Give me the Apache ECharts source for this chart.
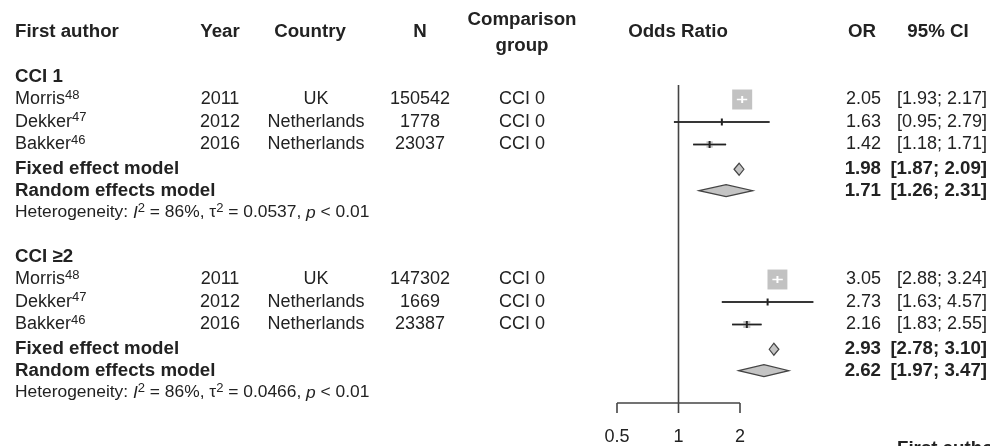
<!DOCTYPE html>
<html>
<head>
<meta charset="utf-8">
<script src="https://cdn.jsdelivr.net/npm/echarts@6/dist/echarts.min.js"></script>
<style>
  html, body { margin: 0; padding: 0; background: #fff; }
  #chart { width: 990px; height: 446px; }
</style>
</head>
<body>
<div id="chart"></div>
<script>
// ---- Study data ----
const subgroupLabels = ['CCI 1', 'CCI \u22652'];
const authors = ['Morris', 'Dekker', 'Bakker'];
const refNumbers = ['48', '47', '46'];
const years = ['2011', '2012', '2016'];
const countries = ['UK', 'Netherlands', 'Netherlands'];
const comparisonGroup = 'CCI 0';

const nCci1 = [150542, 1778, 23037];
const orCci1 = [2.05, 1.63, 1.42];
const lowerCci1 = [1.93, 0.95, 1.18];
const upperCci1 = [2.17, 2.79, 1.71];

const nCci2 = [147302, 1669, 23387];
const orCci2 = [3.05, 2.73, 2.16];
const lowerCci2 = [2.88, 1.63, 1.83];
const upperCci2 = [3.24, 4.57, 2.55];

// pooled estimates per subgroup: [estimate, lower, upper]
const fixedModel = [[1.98, 1.87, 2.09], [2.93, 2.78, 3.10]];
const randomModel = [[1.71, 1.26, 2.31], [2.62, 1.97, 3.47]];

const hetI2 = ['86%', '86%'];
const hetTau2 = ['0.0537', '0.0466'];
const hetP = ['< 0.01', '< 0.01'];

const axisTicks = [0.5, 1, 2];

// ---- Layout ----
const FONT = '"Liberation Sans", Arial, Helvetica, sans-serif';
const INK = '#222';
const LINE = '#444';
const BODY_SIZE = 18;
const BOLD_SIZE = 18.7;
const HET_SIZE = 17.4;
const groupStart = [0, 8];
const rowOffsets = { study: 1, fixed: 4.1, random: 5.05, het: 6.03 };
const headerRow = -2;
const refLineTop = 0.35;
const axisRow = 14.49;
const col = { author: 15, year: 220, country: 316, n: 420, comp: 522, plot: 678, or: 881, ci: 987, orHead: 862, ciHead: 938 };
const MAX_BOX = 20;

const groups = [
  { n: nCci1, or: orCci1, lo: lowerCci1, hi: upperCci1 },
  { n: nCci2, or: orCci2, lo: lowerCci2, hi: upperCci2 }
];

// inverse-variance weights from each study's CI give the box sizes
const weights = groups.map(g => g.lo.map((lo, i) => {
  const se = (Math.log(g.hi[i]) - Math.log(lo)) / (2 * 1.959964);
  return 1 / (se * se);
}));
const maxWeight = Math.max(...weights.flat());

const fmt = v => v.toFixed(2);
const ciText = (lo, hi) => '[' + fmt(lo) + '; ' + fmt(hi) + ']';

// ---- Table rows ----
const tableRows = [];
tableRows.push({ row: headerRow, cells: [
  { x: col.author, align: 'left', text: 'First author', bold: true },
  { x: col.year, align: 'center', text: 'Year', bold: true },
  { x: 310, align: 'center', text: 'Country', bold: true },
  { x: col.n, align: 'center', text: 'N', bold: true },
  { x: col.plot, align: 'center', text: 'Odds Ratio', bold: true },
  { x: col.orHead, align: 'center', text: 'OR', bold: true },
  { x: col.ciHead, align: 'center', text: '95% CI', bold: true }
]});
tableRows.push({ row: -2.53, cells: [{ x: col.comp, align: 'center', text: 'Comparison', bold: true }] });
tableRows.push({ row: -1.38, cells: [{ x: col.comp, align: 'center', text: 'group', bold: true }] });

const studyData = [];
const diamondData = [];

groups.forEach((g, gi) => {
  const base = groupStart[gi];
  tableRows.push({ row: base, cells: [{ x: col.author, align: 'left', text: subgroupLabels[gi], bold: true }] });
  authors.forEach((a, i) => {
    const row = base + rowOffsets.study + i;
    tableRows.push({ row, cells: [
      { x: col.author, align: 'left', text: '{n|' + a + '}{sup|' + refNumbers[i] + '}' },
      { x: col.year, align: 'center', text: years[i] },
      { x: col.country, align: 'center', text: countries[i] },
      { x: col.n, align: 'center', text: String(g.n[i]) },
      { x: col.comp, align: 'center', text: comparisonGroup },
      { x: col.or, align: 'right', text: fmt(g.or[i]) },
      { x: col.ci, align: 'right', text: ciText(g.lo[i], g.hi[i]) }
    ]});
    studyData.push([g.or[i], g.lo[i], g.hi[i], row, MAX_BOX * Math.sqrt(weights[gi][i] / maxWeight)]);
  });
  const fx = fixedModel[gi], rd = randomModel[gi];
  tableRows.push({ row: base + rowOffsets.fixed, cells: [
    { x: col.author, align: 'left', text: 'Fixed effect model', bold: true },
    { x: col.or, align: 'right', text: fmt(fx[0]), bold: true },
    { x: col.ci, align: 'right', text: ciText(fx[1], fx[2]), bold: true }
  ]});
  tableRows.push({ row: base + rowOffsets.random, cells: [
    { x: col.author, align: 'left', text: 'Random effects model', bold: true },
    { x: col.or, align: 'right', text: fmt(rd[0]), bold: true },
    { x: col.ci, align: 'right', text: ciText(rd[1], rd[2]), bold: true }
  ]});
  tableRows.push({ row: base + rowOffsets.het, size: HET_SIZE, cells: [
    { x: col.author, align: 'left',
      text: 'Heterogeneity: {i|I}{sup|2} = ' + hetI2[gi] + ', \u03c4{sup|2} = ' + hetTau2[gi] + ', {i|p} ' + hetP[gi] }
  ]});
  diamondData.push([fx[0], fx[1], fx[2], base + rowOffsets.fixed]);
  diamondData.push([rd[0], rd[1], rd[2], base + rowOffsets.random]);
});

const chart = echarts.init(document.getElementById('chart'), null, { renderer: 'canvas' });

function textEl(x, y, cell, size) {
  const fs = size || (cell.bold ? BOLD_SIZE : BODY_SIZE);
  return {
    type: 'text',
    x: x, y: y,
    style: {
      text: cell.text,
      fill: INK,
      fontFamily: FONT,
      fontSize: fs,
      fontWeight: cell.bold ? 'bold' : 'normal',
      align: cell.align,
      verticalAlign: 'middle',
      rich: {
        n: { fontSize: fs, fontFamily: FONT, lineHeight: 22 },
        i: { fontSize: fs, fontFamily: FONT, fontStyle: 'italic', lineHeight: 22 },
        sup: { fontSize: 13, fontFamily: FONT, verticalAlign: 'top', lineHeight: 12 }
      }
    }
  };
}

chart.setOption({
  animation: false,
  backgroundColor: '#fff',
  grid: { left: 617, width: 246, top: 77, height: 315 },
  xAxis: { type: 'log', logBase: 2, min: 0.5, max: 8, show: false },
  yAxis: { type: 'value', inverse: true, min: 0, max: 14, show: false },
  graphic: [{
    type: 'text', left: 897, top: 439,
    style: { text: 'First author', fontFamily: FONT, fontSize: BOLD_SIZE, fontWeight: 'bold', fill: INK }
  }],
  series: [
    {
      // text columns
      type: 'custom',
      clip: false,
      data: tableRows.map(r => [1, r.row]),
      encode: { x: 0, y: 1 },
      renderItem: function (params, api) {
        const r = tableRows[params.dataIndex];
        const y = api.coord([1, api.value(1)])[1];
        return { type: 'group', children: r.cells.map(c => textEl(c.x, y, c, r.size)) };
      }
    },
    {
      // reference line at OR = 1 and the bottom axis
      type: 'custom',
      clip: false,
      data: [[1, axisRow]],
      encode: { x: 0, y: 1 },
      renderItem: function (params, api) {
        const top = api.coord([1, refLineTop]);
        const bottom = api.coord([1, axisRow]);
        const left = api.coord([axisTicks[0], axisRow]);
        const right = api.coord([axisTicks[axisTicks.length - 1], axisRow]);
        const lineStyle = { stroke: LINE, lineWidth: 1.6 };
        const children = [
          { type: 'line', shape: { x1: top[0], y1: top[1], x2: bottom[0], y2: bottom[1] }, style: lineStyle },
          { type: 'line', shape: { x1: left[0], y1: left[1], x2: right[0], y2: right[1] }, style: lineStyle }
        ];
        axisTicks.forEach(t => {
          const p = api.coord([t, axisRow]);
          children.push({ type: 'line', shape: { x1: p[0], y1: p[1], x2: p[0], y2: p[1] + 10 }, style: lineStyle });
          children.push({ type: 'text', x: p[0], y: p[1] + 34,
            style: { text: String(t), fontFamily: FONT, fontSize: BODY_SIZE, fill: INK, align: 'center', verticalAlign: 'middle' } });
        });
        return { type: 'group', children };
      }
    },
    {
      // individual studies: CI line with weighted square
      type: 'custom',
      clip: false,
      data: studyData,
      encode: { x: 0, y: 3 },
      renderItem: function (params, api) {
        const row = api.value(3);
        const c = api.coord([api.value(0), row]);
        const lo = api.coord([api.value(1), row]);
        const hi = api.coord([api.value(2), row]);
        const s = api.value(4);
        const inside = s > (hi[0] - lo[0]);
        const lineCol = inside ? '#fff' : '#222';
        return { type: 'group', children: [
          { type: 'line', shape: { x1: lo[0], y1: c[1], x2: hi[0], y2: c[1] }, style: { stroke: '#444', lineWidth: 1.5 } },
          { type: 'rect', shape: { x: c[0] - s / 2, y: c[1] - s / 2, width: s, height: s }, style: { fill: '#c2c2c2' } },
          { type: 'line', shape: { x1: lo[0], y1: c[1], x2: hi[0], y2: c[1] }, style: { stroke: lineCol, lineWidth: 1.5 } },
          { type: 'line', shape: { x1: c[0], y1: c[1] - 3.5, x2: c[0], y2: c[1] + 3.5 }, style: { stroke: lineCol, lineWidth: 2 } }
        ]};
      }
    },
    {
      // pooled estimates
      type: 'custom',
      clip: false,
      data: diamondData,
      encode: { x: 0, y: 3 },
      renderItem: function (params, api) {
        const row = api.value(3);
        const c = api.coord([api.value(0), row]);
        const lo = api.coord([api.value(1), row]);
        const hi = api.coord([api.value(2), row]);
        const h = 6;
        return {
          type: 'polygon',
          shape: { points: [[lo[0], c[1]], [c[0], c[1] - h], [hi[0], c[1]], [c[0], c[1] + h]] },
          style: { fill: '#c4c4c4', stroke: '#444', lineWidth: 1.2 }
        };
      }
    }
  ]
});
</script>
</body>
</html>
